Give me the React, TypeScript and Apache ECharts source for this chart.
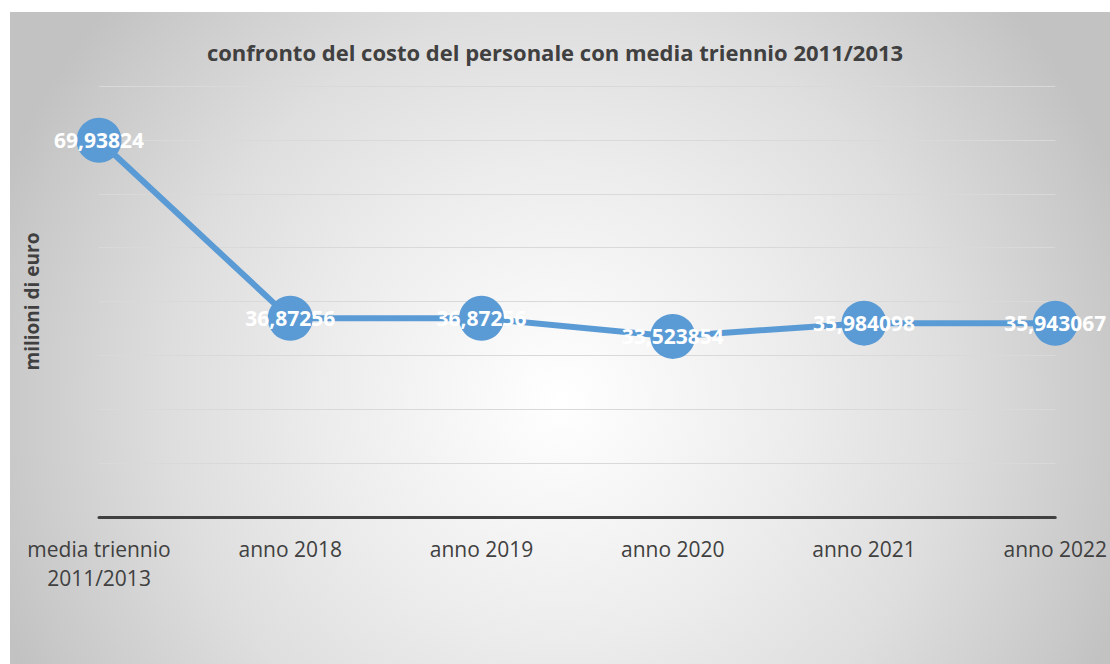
import React, { useEffect, useRef } from "react";
import * as echarts from "echarts";

const categories = [
  "media triennio\n2011/2013",
  "anno 2018",
  "anno 2019",
  "anno 2020",
  "anno 2021",
  "anno 2022",
];
const values = [69.93824, 36.87256, 36.87256, 33.523854, 35.984098, 35.943067];
const yMin = 0;
const yMax = 80;
const yInterval = 10;

export default function App() {
  const ref = useRef<HTMLDivElement>(null);
  useEffect(() => {
    document.body.style.margin = "0";
    const chart = echarts.init(ref.current!, null, { renderer: "svg" });
    chart.setOption({
      animation: false,
      graphic: [
        {
          type: "rect",
          z: -10,
          silent: true,
          shape: { x: 10, y: 12, width: 1100, height: 652 },
          style: {
            fill: new echarts.graphic.RadialGradient(
              560,
              400,
              600,
              [
                { offset: 0, color: "#ffffff" },
                { offset: 0.4, color: "#ececec" },
                { offset: 0.65, color: "#dedede" },
                { offset: 0.92, color: "#c9c9c9" },
                { offset: 1, color: "#c2c2c2" },
              ],
              true
            ),
          },
        },
      ],
      title: {
        text: "confronto del costo del personale con media triennio 2011/2013",
        left: "center",
        top: 36,
        textStyle: {
          fontFamily: "Open Sans",
          fontWeight: "bold",
          fontSize: 22,
          color: "#404040",
        },
      },
      grid: { left: 99, right: 53, top: 86, bottom: 147 },
      xAxis: {
        type: "category",
        data: categories,
        boundaryGap: false,
        axisLine: { lineStyle: { color: "#404040", width: 3 } },
        axisTick: { show: false },
        axisLabel: {
          fontFamily: "Open Sans",
          fontSize: 21,
          lineHeight: 29,
          color: "#404040",
          margin: 17,
          interval: 0,
        },
      },
      yAxis: {
        type: "value",
        min: yMin,
        max: yMax,
        interval: yInterval,
        name: "milioni di euro",
        nameLocation: "middle",
        nameGap: 58,
        nameTextStyle: {
          fontFamily: "Open Sans",
          fontWeight: "bold",
          fontSize: 19,
          color: "#404040",
        },
        axisLabel: { show: false },
        axisLine: { show: false },
        axisTick: { show: false },
        splitLine: { lineStyle: { color: "#d9d9d9", width: 1 } },
      },
      series: [
        {
          type: "line",
          data: values,
          symbol: "circle",
          symbolSize: 45,
          itemStyle: { color: "#5B9BD5" },
          lineStyle: { color: "#5B9BD5", width: 6 },
          label: {
            show: true,
            position: "inside",
            color: "#ffffff",
            fontFamily: "Open Sans",
            fontWeight: "bold",
            fontSize: 21,
            formatter: (p: any) => String(p.value).replace(".", ","),
          },
        },
      ],
    });
    return () => chart.dispose();
  }, []);
  return <div ref={ref} style={{ width: 1110, height: 664 }} />;
}
